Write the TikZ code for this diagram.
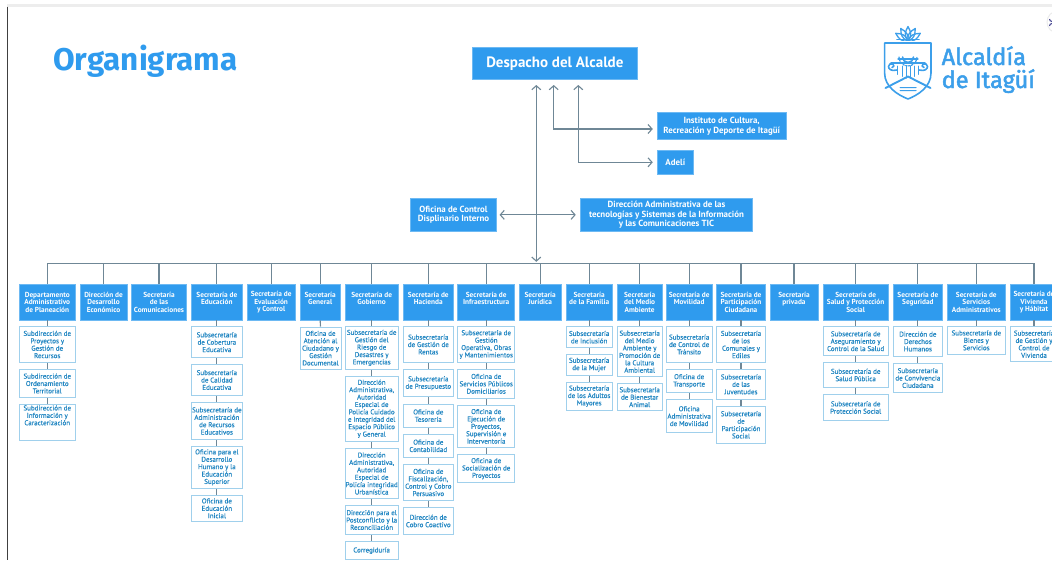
\documentclass[tikz,border=0pt]{standalone}
\usepackage{fontspec}
\setmainfont{PT Sans}
\newfontfamily\titlefont{Fira Sans}
\newfontfamily\logofont[FakeBold=2]{Fira Sans}
\newfontfamily\subfont[FakeBold=0.35]{PT Sans}
\normallineskiplimit=-5pt
\usetikzlibrary{arrows.meta}
\definecolor{hblue}{HTML}{2F9BEE}
\definecolor{stext}{HTML}{2186C2}
\definecolor{sedge}{HTML}{A0D0EC}
\definecolor{lgray}{HTML}{6F8796}
\definecolor{logob}{HTML}{3C9FEA}
\tikzset{
  headbox/.style={fill=hblue,draw=hblue!70!white,line width=0.5pt,inner sep=0pt,text=white,align=center,
    font=\fontsize{7.3}{7.3}\selectfont\bfseries},
  topbox/.style={headbox,font=\fontsize{8.9}{9.3}\selectfont\bfseries},
  subbox/.style={fill=white,draw=sedge,line width=1pt,inner sep=0pt,text=stext,align=center,
    font=\fontsize{7}{7.4}\selectfont\subfont},
  conn/.style={draw=lgray,line width=1.1pt},
  harrow/.style={draw=lgray,line width=1.1pt,{Straight Barb[length=4pt,width=9pt]}-{Straight Barb[length=4pt,width=9pt]}},
  logoline/.style={draw=logob,line width=1.6pt,line join=round,line cap=round},
  logotext/.style={text=logob,inner sep=0pt,anchor=base west,font=\fontsize{23.5}{24}\selectfont\logofont}
}
% name, x-left, x-right, y-top, y-bottom, text (real pixel units)
\newcommand\PBox[7]{\node[#1,minimum width={#4-#3},minimum height={#6-#5}] (#2) at ({(#3+#4)/2},{(#5+#6)/2}) {#7};}
% y given in 3x zoom units from y=270
\newcommand\SB[6]{\node[subbox,minimum width={#3-#2},minimum height={(#5-#4)/3}] (#1) at ({(#2+#3)/2},{270+(#4+#5)/6}) {#6};}
\newcommand\HB[4]{\PBox{headbox}{#1}{#2}{#3}{284.7}{320}{#4}}
\begin{document}
\begin{tikzpicture}[x=1pt,y=-1pt]
\path[use as bounding box] (0,0) rectangle (1052,560);
\clip (0,0) rectangle (1052,560);
\fill[white] (0,0) rectangle (1052,560);
% page frame
\fill[black!7] (7,4) rectangle (1052,6.5);
\draw[black!75,line width=0.9pt] (7.5,6.5) -- (7.5,560);
\filldraw[fill=white,draw=black!8,line width=1pt] (1058,22) circle (11);
\draw[black!60!blue!70,line width=1.1pt] (1049.5,19) arc (180:60:2.5) (1049.5,26) arc (180:300:2.5);

% title
\node[text=hblue,inner sep=0pt,anchor=base west,font=\fontsize{31.4}{32}\selectfont\titlefont\bfseries] (title) at (53,70.5) {Organigrama};

% logo
\draw[logoline] (884.6,43) -- (931,43) -- (931,73) .. controls (931,87) and (918,95) .. (908,99) .. controls (898,95) and (884.6,87) .. (884.6,73) -- cycle;
\foreach \r in {-58,-30,0,30,58}{
  \begin{scope}[shift={(908,41)},rotate=\r]
    \draw[logoline,line width=1.3pt] (0,0) .. controls (-4.2,-5) and (-3,-9) .. (0,-14.5) .. controls (3,-9) and (4.2,-5) .. (0,0);
  \end{scope}}
\fill[white] (896,40.5) rectangle (920,42.2);
\draw[logoline] (897,39.5) -- (919,39.5);
\draw[logoline,line width=1.2pt] (898,59) -- (918,59);
\draw[logoline] (902.5,57) arc (180:360:5.5 and -5.5);
\draw[logoline,line width=1.2pt,dash pattern=on 1.5pt off 1.4pt] (899,57) arc (180:360:9 and -9);
\draw[logoline] (891,63) -- (925,63);
\draw[logoline] (897,70) .. controls (891,71.5) and (888.5,69) .. (888.5,66.5) .. controls (888.5,64) and (891,63) .. (893,64) .. controls (894.5,65) and (894,67.5) .. (892,67.5);
\draw[logoline] (919,70) .. controls (925,71.5) and (927.5,69) .. (927.5,66.5) .. controls (927.5,64) and (925,63) .. (923,64) .. controls (921.5,65) and (922,67.5) .. (924,67.5);
\foreach \x in {897.5,902,906,910,914,918.5}{\draw[logoline,line width=1pt] (\x,66) -- (\x,{79-abs(\x-908)*0.45});}
\draw[logoline,line width=1.9pt] (885.5,88) -- (908,76.5) -- (930.5,88);
\foreach \y in {87.5,90.5}{\draw[logoline,line width=1pt] (900,\y) .. controls (903,\y-1.5) and (905,\y+1.5) .. (908,\y) .. controls (911,\y-1.5) and (913,\y+1.5) .. (916,\y);}
\node[logotext] (l1) at (941.5,65) {Alcaldía};
\node[logotext] (l2) at (941.5,88) {de Itagüí};

% top boxes
\PBox{headbox,font=\fontsize{15}{15}\selectfont\bfseries}{desp}{472.7}{637}{47.3}{79.3}{Despacho del Alcalde}
\PBox{topbox}{inst}{657.3}{786}{112.7}{139.7}{Instituto de Cultura,\\Recreación y Deporte de Itagüí}
\PBox{topbox}{adeli}{657.3}{693.3}{150.3}{174.3}{Adelí}
\PBox{topbox}{ofi}{410.3}{496.7}{198}{231.7}{Oficina de Control\\Displinario Interno}
\PBox{topbox}{dir}{580.7}{752.3}{198}{231.7}{Dirección Administrativa de las\\tecnologías y Sistemas de la Información\\y las Comunicaciones TIC}

% header row
\HB{h1}{19}{75.5}{Departamento\\Administrativo\\de Planeación}
\HB{h2}{80}{127}{Dirección de\\Desarrollo\\Económico}
\HB{h3}{131.7}{186.3}{Secretaría\\de las\\Comunicaciones}
\HB{h4}{191}{242.7}{Secretaría de\\Educación\\\phantom{X}}
\HB{h5}{247}{295.3}{Secretaría de\\Evaluación\\y Control}
\HB{h6}{300}{340.3}{Secretaría\\General\\\phantom{X}}
\HB{h7}{345}{398.3}{Secretaría de\\Gobierno\\\phantom{X}}
\HB{h8}{403.3}{453.3}{Secretaría de\\Hacienda\\\phantom{X}}
\HB{h9}{457.7}{514.7}{Secretaría de\\Infraestructura\\\phantom{X}}
\HB{h10}{519.3}{561}{Secretaría\\Jurídica\\\phantom{X}}
\HB{h11}{566}{612.3}{Secretaría\\de la Familia\\\phantom{X}}
\HB{h12}{617.3}{662}{Secretaría\\del Medio\\Ambiente}
\HB{h13}{666.3}{712}{Secretaría de\\Movilidad\\\phantom{X}}
\HB{h14}{716.7}{765.3}{Secretaría de\\Participación\\Ciudadana}
\HB{h15}{770}{818}{Secretaría\\privada\\\phantom{X}}
\HB{h16}{823}{888.3}{Secretaría de\\Salud y Protección\\Social}
\HB{h17}{893}{942.7}{Secretaría de\\Seguridad\\\phantom{X}}
\HB{h18}{947.3}{1005.3}{Secretaría de\\Servicios\\Administrativos}
\HB{h19}{1010}{1058}{Secretaría de\\Vivienda\\y Hábitat}

% sub boxes
\SB{a1}{19}{75.5}{170}{277}{Subdirección de\\Proyectos y\\Gestión de\\Recursos}
\SB{a2}{19}{75.5}{298}{383}{Subdirección de\\Ordenamiento\\Territorial}
\SB{a3}{19}{75.5}{404}{511}{Subdirección de\\Información y\\Caracterización\\[7pt]}

\SB{d1}{191}{242.7}{170}{263}{Subsecretaría\\de Cobertura\\Educativa}
\SB{d2}{191}{242.7}{284}{376}{Subsecretaría\\de Calidad\\Educativa}
\SB{d3}{191}{242.7}{397}{509}{Subsecretaría de\\Administración\\de Recursos\\Educativos}
\SB{d4}{191}{242.7}{530}{654}{Oficina para el\\Desarrollo\\Humano y la\\Educación\\Superior}
\SB{d5}{191}{242.7}{676}{754}{Oficina de\\Educación\\Inicial}

\SB{f1}{300}{341}{171}{298}{Oficina de\\Atención al\\Ciudadano y\\Gestión\\Documental}

\SB{g1}{345}{398.3}{170}{297}{Subsecretaría de\\Gestión del\\Riesgo de\\Desastres y\\Emergencias}
\SB{g2}{345}{398.3}{319}{514}{Dirección\\Administrativa,\\Autoridad\\Especial de\\Policía Cuidado\\e Integridad del\\Espacio Público\\y General}
\SB{g3}{345}{398.3}{535}{686}{Dirección\\Administrativa,\\Autoridad\\Especial de\\Policía integridad\\Urbanística}
\SB{g4}{345}{398.3}{706}{794}{Dirección para el\\Postconflicto y la\\Reconciliación}
\SB{g5}{345}{398.3}{815}{869}{Corregiduría}

\SB{k1}{403.3}{453.3}{170}{277}{Subsecretaría\\de Gestión de\\Rentas}
\SB{k2}{403.3}{453.3}{299}{380}{Subsecretaría\\de Presupuesto}
\SB{k3}{403.3}{453.3}{402}{472}{Oficina de\\Tesorería}
\SB{k4}{403.3}{453.3}{493}{562}{Oficina de\\Contabilidad}
\SB{k5}{403.3}{453.3}{584}{691}{Oficina de\\Fiscalización,\\Control y Cobro\\Persuasivo}
\SB{k6}{403.3}{453.3}{712}{794}{Dirección de\\Cobro Coactivo}

\SB{i1}{457.7}{514.7}{170}{277}{Subsecretaría de\\Gestión\\Operativa, Obras\\y Mantenimientos}
\SB{i2}{457.7}{514.7}{298}{385}{Oficina de\\Servicios Públicos\\Domiciliarios}
\SB{i3}{457.7}{514.7}{406}{532}{Oficina de\\Ejecución de\\Proyectos,\\Supervisión e\\Interventoría}
\SB{i4}{457.7}{514.7}{554}{638}{Oficina de\\Socialización de\\Proyectos}

\SB{m1}{566}{612.3}{170}{233}{Subsecretaría\\de Inclusión}
\SB{m2}{566}{612.3}{253}{315}{Subsecretaría\\de la Mujer}
\SB{m3}{566}{612.3}{336}{421}{Subsecretaría\\de los Adultos\\Mayores}

\SB{n1}{617.3}{662}{170}{320}{Subsecretaría\\del Medio\\Ambiente y\\Promoción de\\la Cultura\\Ambiental}
\SB{n2}{617.3}{662}{341}{422}{Subsecretaría\\de Bienestar\\Animal}

\SB{o1}{666.3}{712}{170}{277}{Subsecretaría\\de Control de\\Tránsito}
\SB{o2}{666.3}{712}{298}{368}{Oficina de\\Transporte}
\SB{o3}{666.3}{712}{389}{488}{Oficina\\Administrativa\\de Movilidad}

\SB{p1}{716.7}{765.3}{170}{277}{Subsecretaría\\de los\\Comunales y\\Ediles}
\SB{p2}{716.7}{765.3}{298}{388}{Subsecretaría\\de las\\Juventudes}
\SB{p3}{716.7}{765.3}{409}{520}{Subsecretaría\\de\\Participación\\Social}

\SB{s1}{823}{888.3}{170}{257}{Subsecretaría de\\Aseguramiento y\\Control de la Salud}
\SB{s2}{823}{888.3}{277}{353}{Subsecretaría de\\Salud Pública}
\SB{s3}{823}{888.3}{374}{451}{Subsecretaría de\\Protección Social}

\SB{t1}{893}{942.7}{170}{259}{Dirección de\\Derechos\\Humanos}
\SB{t2}{893}{942.7}{280}{368}{Subsecretaría\\de Convivencia\\Ciudadana}

\SB{u1}{947.3}{1005.3}{170}{252}{Subsecretaría de\\Bienes y\\Servicios}
\SB{v1}{1010}{1058}{170}{275}{Subsecretaría\\de Gestión y\\Control de\\Vivienda}

% connectors
\coordinate (bus) at (537,263.3);
\foreach \n in {h1,h2,h3,h4,h5,h6,h7,h8,h9,h10,h11,h12,h13,h14,h15,h16,h17,h18,h19}{
  \draw[conn] (\n.north) -- (\n.north |- bus);}
\draw[conn] (h1.north |- bus) -- (h19.north |- bus);
\foreach \a/\b in {h1/a1,a1/a2,a2/a3,h4/d1,d1/d2,d2/d3,d3/d4,d4/d5,h6/f1,
  h7/g1,g1/g2,g2/g3,g3/g4,g4/g5,h8/k1,k1/k2,k2/k3,k3/k4,k4/k5,k5/k6,
  h9/i1,i1/i2,i2/i3,i3/i4,h11/m1,m1/m2,m2/m3,h12/n1,n1/n2,h13/o1,o1/o2,o2/o3,
  h14/p1,p1/p2,p2/p3,h16/s1,s1/s2,s2/s3,h17/t1,t1/t2,h18/u1,h19/v1}{
  \draw[conn] (\a.south) -- (\b.north);}

\coordinate (up1) at (536.3,85);
\coordinate (dn1) at (536.3,261.8);
\coordinate (up2) at (553.7,85);
\coordinate (up3) at (578.3,85);
\draw[harrow] (up1) -- (dn1);
\draw[harrow] (up2) |- ([yshift=-2.8pt,xshift=-4.3pt]inst.west);
\draw[harrow] (up3) |- ([xshift=-4.3pt]adeli.west);
\draw[harrow] ([xshift=2.6pt]ofi.east) -- ([xshift=-4.7pt]dir.west);
\end{tikzpicture}
\end{document}
